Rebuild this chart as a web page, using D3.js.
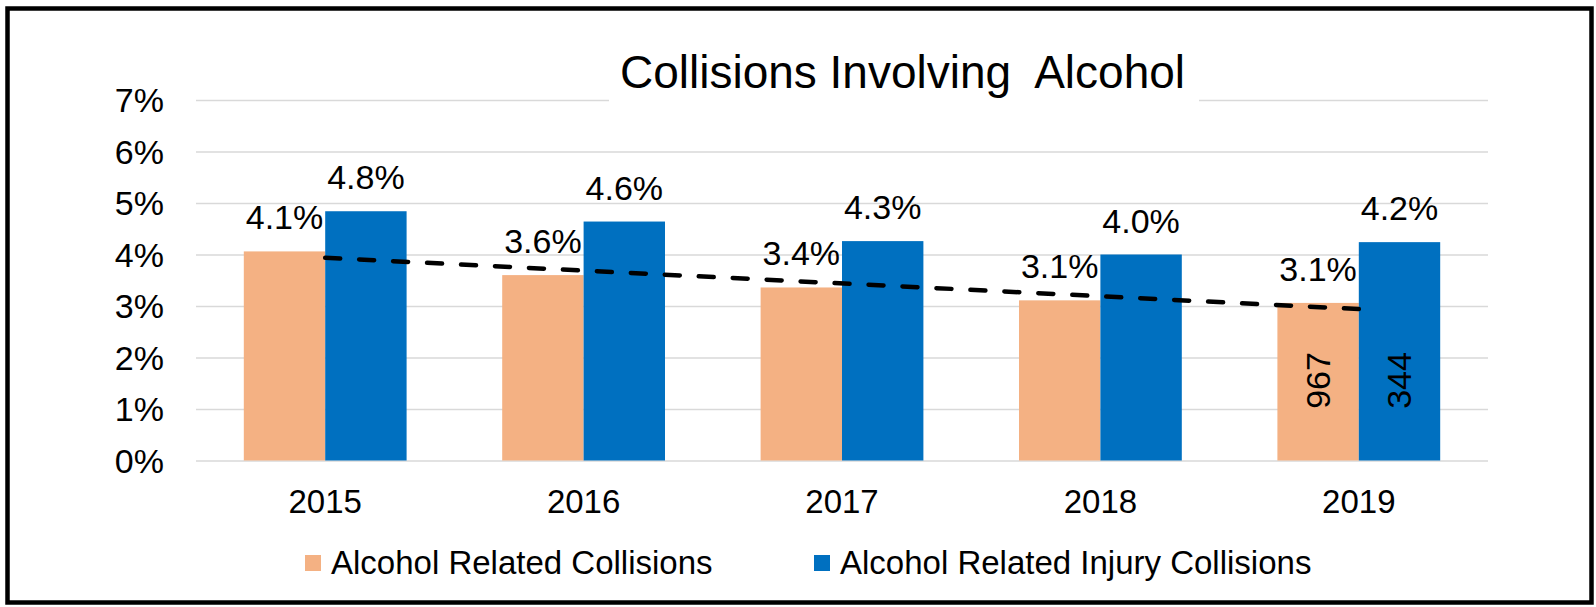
<!DOCTYPE html>
<html>
<head>
<meta charset="utf-8">
<script src="https://cdn.jsdelivr.net/npm/d3@7"></script>
<style>
	body { margin: 0; background: #fff; }
	svg text { font-family: "Liberation Sans", Arial, sans-serif; fill: #000; }
</style>
</head>
<body>
<div id="chart"></div>
<script>
// data
var years = ["2015", "2016", "2017", "2018", "2019"];
var seriesNames = ["Alcohol Related Collisions", "Alcohol Related Injury Collisions"];
var alcoholRelated = [0.0406, 0.0360, 0.0336, 0.0311, 0.0306];
var injuryRelated = [0.0484, 0.0464, 0.0426, 0.0400, 0.0424];
var counts2019 = [967, 344];
var yTicks = [0, 0.01, 0.02, 0.03, 0.04, 0.05, 0.06, 0.07];
var colors = ["#F4B183", "#0070C0"];

var W = 1596, H = 607;
var plotLeft = 196, plotRight = 1488, plotTop = 100, plotBottom = 460.5;

var svg = d3.select("#chart")
	.append("svg")
	.attr("width", W)
	.attr("height", H);

// outer frame
svg.append("rect")
	.attr("x", 7.5)
	.attr("y", 8.5)
	.attr("width", 1584)
	.attr("height", 594)
	.attr("fill", "#fff")
	.attr("stroke", "#000")
	.attr("stroke-width", 4.5);

var x0 = d3.scaleBand()
	.domain(years)
	.range([plotLeft, plotRight])
	.paddingInner(0.37)
	.paddingOuter(0.185);

var x1 = d3.scaleBand()
	.domain([0, 1])
	.range([0, x0.bandwidth()]);

var y = d3.scaleLinear()
	.domain([0, 0.07])
	.range([plotBottom, plotTop]);

// Y axis + gridlines
var yAxis = svg.append("g")
	.attr("transform", "translate(" + plotLeft + ",0)")
	.call(d3.axisLeft(y)
		.tickValues(yTicks)
		.tickSize(-(plotRight - plotLeft))
		.tickPadding(32)
		.tickFormat(d3.format(".0%")));
yAxis.select(".domain").remove();
yAxis.selectAll("line")
	.attr("stroke", "#d9d9d9")
	.attr("stroke-width", 1.5);
yAxis.selectAll("text")
	.attr("font-size", 34)
	.attr("dy", "0.35em");

// X axis
var xAxis = svg.append("g")
	.attr("transform", "translate(0," + plotBottom + ")")
	.call(d3.axisBottom(x0).tickSize(0).tickPadding(29.5));
xAxis.select(".domain").remove();
xAxis.selectAll("text").attr("font-size", 33);

// title with white box over the top gridline
svg.append("rect")
	.attr("x", 609)
	.attr("y", 45)
	.attr("width", 590)
	.attr("height", 62)
	.attr("fill", "#fff");
svg.append("text")
	.attr("x", 902.5)
	.attr("y", 87.7)
	.attr("text-anchor", "middle")
	.attr("font-size", 46)
	.style("white-space", "pre")
	.text("Collisions Involving  Alcohol");

// bars
var rows = years.map(function(yr, i) {
	return { year: yr, values: [alcoholRelated[i], injuryRelated[i]] };
});

var groups = svg.selectAll(".grp")
	.data(rows)
	.enter()
	.append("g")
	.attr("class", "grp")
	.attr("transform", function(d) { return "translate(" + x0(d.year) + ",0)"; });

groups.selectAll("rect")
	.data(function(d) { return d.values; })
	.enter()
	.append("rect")
	.attr("x", function(d, i) { return x1(i); })
	.attr("y", function(d) { return y(d); })
	.attr("width", x1.bandwidth())
	.attr("height", function(d) { return plotBottom - y(d); })
	.attr("fill", function(d, i) { return colors[i]; });

// linear trendline of the first series, at category centres
var n = years.length;
var mx = d3.mean(d3.range(n));
var my = d3.mean(alcoholRelated);
var sxy = d3.sum(d3.range(n), function(i) { return (i - mx) * (alcoholRelated[i] - my); });
var sxx = d3.sum(d3.range(n), function(i) { return (i - mx) * (i - mx); });
var slope = sxy / sxx;
var trend = [0, n - 1].map(function(i) {
	return [x0(years[i]) + x0.bandwidth() / 2, y(my + slope * (i - mx))];
});
svg.append("path")
	.attr("d", d3.line()(trend))
	.attr("fill", "none")
	.attr("stroke", "#000")
	.attr("stroke-width", 4.5)
	.attr("stroke-linecap", "round")
	.attr("stroke-dasharray", "15,19");

// value labels
groups.selectAll(".val")
	.data(function(d) { return d.values; })
	.enter()
	.append("text")
	.attr("class", "val")
	.attr("x", function(d, i) { return x1(i) + x1.bandwidth() / 2; })
	.attr("y", function(d) { return y(d) - 22; })
	.attr("text-anchor", "middle")
	.attr("font-size", 34)
	.text(function(d) { return d3.format(".1%")(d); });

// rotated counts inside 2019 bars
var last = groups.filter(function(d) { return d.year === "2019"; });
last.selectAll(".cnt")
	.data(counts2019)
	.enter()
	.append("text")
	.attr("class", "cnt")
	.attr("transform", function(d, i) {
		return "translate(" + (x1(i) + x1.bandwidth() / 2) + "," + (plotBottom - 80) + ") rotate(-90)";
	})
	.attr("text-anchor", "middle")
	.attr("dy", "0.35em")
	.attr("font-size", 34)
	.text(function(d) { return d; });

// legend
var legendX = [305, 814];
var legend = svg.selectAll(".leg")
	.data(seriesNames)
	.enter()
	.append("g")
	.attr("class", "leg")
	.attr("transform", function(d, i) { return "translate(" + legendX[i] + ",555)"; });
legend.append("rect")
	.attr("width", 16)
	.attr("height", 16)
	.attr("fill", function(d, i) { return colors[i]; });
legend.append("text")
	.attr("x", 26)
	.attr("y", 18.5)
	.attr("font-size", 33)
	.text(function(d) { return d; });
</script>
</body>
</html>
